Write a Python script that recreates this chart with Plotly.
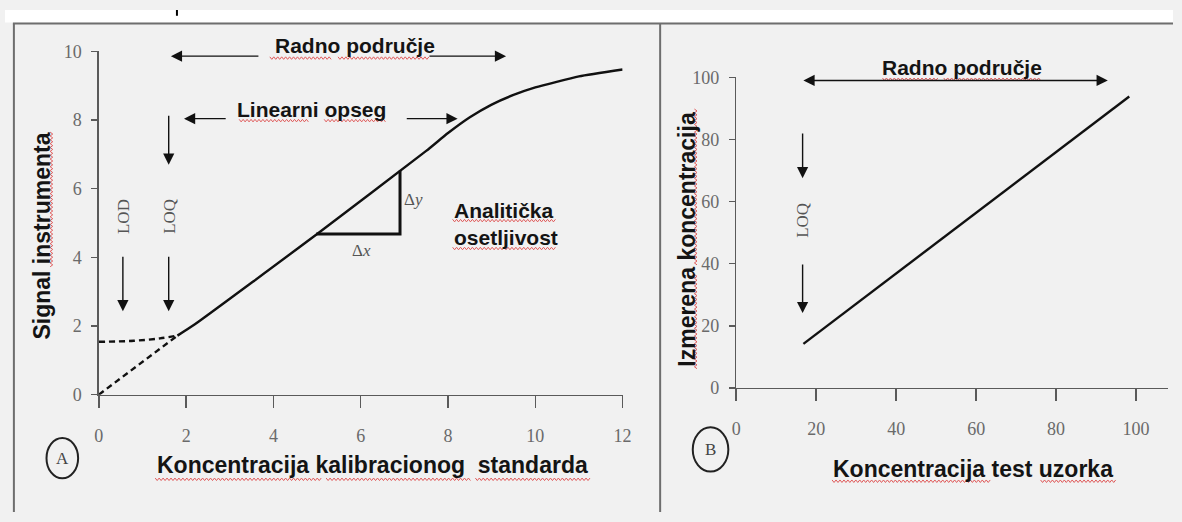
import plotly.graph_objects as go

# ---------------- data ----------------
# Panel A: calibration curve
a_curve_x = [1.8, 2.2, 5.0, 7.5, 8.0, 8.5, 9.0, 9.5, 10.0, 11.0, 12.0]
a_curve_y = [1.72, 2.05, 4.68, 7.1, 7.62, 8.08, 8.45, 8.73, 8.95, 9.27, 9.47]
a_dash_lin_x = [0.0, 1.8]
a_dash_lin_y = [0.0, 1.72]
a_dash_flat_x = [0.0, 0.8, 1.4, 1.8]
a_dash_flat_y = [1.54, 1.57, 1.64, 1.72]
a_slope_x = [4.98, 6.9, 6.9]
a_slope_y = [4.68, 4.68, 6.52]
a_xticks = [0, 2, 4, 6, 8, 10, 12]
a_yticks = [0, 2, 4, 6, 8, 10]
lod_x = 0.55
loq_x = 1.6

# Panel B: measured vs. true concentration
b_line_x = [16.8, 98.3]
b_line_y = [14.2, 93.8]
b_xticks = [0, 20, 40, 60, 80, 100]
b_yticks = [0, 20, 40, 60, 80, 100]
b_loq_x = 16.6

W, H = 1182, 522
def px(x):
    return x / W
def py(y):
    return 1 - y / H

BG = '#f1f1f1'
AX = '#5a5a5a'
TXT = '#141414'
TICKFONT = dict(family='Liberation Serif, Times New Roman, serif', size=18, color='#6a6a6a')
BOLD = dict(family='Liberation Sans, Arial, sans-serif', size=21, color=TXT)
TITLE = dict(family='Liberation Sans, Arial, sans-serif', size=23, color=TXT)

fig = go.Figure()

# Panel A traces
fig.add_trace(go.Scatter(x=a_dash_lin_x, y=a_dash_lin_y, mode='lines',
                         line=dict(color='#111', width=2.4, dash='6px,4px'), xaxis='x', yaxis='y'))
fig.add_trace(go.Scatter(x=a_dash_flat_x, y=a_dash_flat_y, mode='lines',
                         line=dict(color='#111', width=2.4, dash='6px,4px', shape='spline'), xaxis='x', yaxis='y'))
fig.add_trace(go.Scatter(x=a_curve_x, y=a_curve_y, mode='lines',
                         line=dict(color='#111', width=2.4, shape='spline', smoothing=0.5), xaxis='x', yaxis='y'))
fig.add_trace(go.Scatter(x=a_slope_x, y=a_slope_y, mode='lines',
                         line=dict(color='#111', width=3), xaxis='x', yaxis='y'))
# Panel B trace
fig.add_trace(go.Scatter(x=b_line_x, y=b_line_y, mode='lines',
                         line=dict(color='#111', width=2.4), xaxis='x2', yaxis='y2'))

axis_common = dict(showline=True, linecolor=AX, linewidth=1.5, ticks='outside', tickcolor=AX,
                   tickwidth=1.5, showgrid=False, zeroline=False, tickfont=TICKFONT, fixedrange=True)

fig.update_layout(
    width=W, height=H, margin=dict(l=0, r=0, t=0, b=0),
    paper_bgcolor=BG, plot_bgcolor=BG, showlegend=False,
    xaxis=dict(domain=[px(95), px(625)], range=[0, 12], tickvals=a_xticks, anchor='y',
               ticklen=12, ticklabelstandoff=12, **axis_common),
    yaxis=dict(domain=[py(400), py(43)], range=[0, 10], tickvals=a_yticks, anchor='x',
               ticklen=6, ticklabelstandoff=6, **axis_common),
    xaxis2=dict(domain=[px(740), px(1177)], range=[0, 108], tickvals=b_xticks, anchor='y2',
                ticklen=12, ticklabelstandoff=12, **axis_common),
    yaxis2=dict(domain=[py(393), py(70)], range=[0, 100], tickvals=b_yticks, anchor='x2',
                ticklen=6, ticklabelstandoff=6, **axis_common),
)

ann = []
def arrow(x, y, ax, ay, xr='x', yr='y', side='end'):
    ann.append(dict(x=x, y=y, ax=ax, ay=ay, xref=xr, yref=yr, axref=xr, ayref=yr, text='',
                    showarrow=True, arrowhead=2, arrowsize=1.6, arrowwidth=1.4,
                    arrowcolor='#111', arrowside=side))
def text(x, y, t, font, xr='x', yr='y', angle=0, xanchor='center'):
    ann.append(dict(x=x, y=y, xref=xr, yref=yr, text=t, showarrow=False, font=font,
                    textangle=angle, xanchor=xanchor, yanchor='middle', align='left'))

# Panel A annotations
text(px(354), py(37), '<b>Radno područje</b>', BOLD, xr='paper', yr='paper')
arrow(1.65, 9.86, 3.69, 9.86)
arrow(9.33, 9.86, 7.54, 9.86)
text(4.87, 8.32, '<b>Linearni opseg</b>', BOLD)
arrow(1.95, 8.04, 2.94, 8.04)
arrow(8.22, 8.04, 7.02, 8.04)
arrow(loq_x, 6.7, loq_x, 8.17)
arrow(lod_x, 2.43, lod_x, 4.06)
arrow(loq_x, 2.43, loq_x, 4.06)
serif_small = dict(family='Liberation Serif, Times New Roman, serif', size=17, color='#555')
text(lod_x, 5.2, 'LOD', serif_small, angle=-90)
text(loq_x, 5.2, 'LOQ', serif_small, angle=-90)
text(7.21, 5.69, 'Δ<i>y</i>', serif_small)
text(6.01, 4.2, 'Δ<i>x</i>', serif_small)
text(8.1, 4.96, '<b>Analitička<br>osetljivost</b>', BOLD, xanchor='left')

# Panel B annotations
arrow(16.8, 99, 93.3, 99, xr='x2', yr='y2', side='end+start')
text(px(968), py(60), '<b>Radno područje</b>', BOLD, xr='paper', yr='paper')
arrow(b_loq_x, 67.5, b_loq_x, 82.4, xr='x2', yr='y2')
arrow(b_loq_x, 24.1, b_loq_x, 40.2, xr='x2', yr='y2')
text(b_loq_x, 54, 'LOQ', serif_small, xr='x2', yr='y2', angle=-90)

# Axis titles (paper coordinates)
text(px(372), py(473), '<b>Koncentracija kalibracionog  standarda</b>', TITLE, xr='paper', yr='paper')
text(px(37), py(235), '<b>Signal instrumenta</b>', TITLE, xr='paper', yr='paper', angle=-90)
text(px(980), py(477), '<b>Koncentracija test uzorka</b>', TITLE, xr='paper', yr='paper')
text(px(690), py(238), '<b>Izmerena koncentracija</b>', TITLE, xr='paper', yr='paper', angle=-90)
# Panel letters
circ_font = dict(family='Liberation Serif, Times New Roman, serif', size=17, color='#444')
text(px(58), py(466), 'A', circ_font, xr='paper', yr='paper')
text(px(714), py(457), 'B', circ_font, xr='paper', yr='paper')

fig.update_layout(annotations=ann)

shapes = [
    # white strip on top
    dict(type='rect', xref='paper', yref='paper', x0=0, x1=1, y0=py(13), y1=1,
         fillcolor='white', line=dict(width=0), layer='below'),
    # frame
    dict(type='line', xref='paper', yref='paper', x0=px(8), x1=1, y0=py(14), y1=py(14),
         line=dict(color='#6e6e6e', width=2)),
    dict(type='line', xref='paper', yref='paper', x0=px(9), x1=px(9), y0=py(14), y1=0,
         line=dict(color='#6e6e6e', width=2)),
    dict(type='line', xref='paper', yref='paper', x0=px(663), x1=px(663), y0=py(14), y1=0,
         line=dict(color='#6e6e6e', width=2)),
    # small cropped mark at the top
    dict(type='line', xref='paper', yref='paper', x0=px(174), x1=px(174), y0=1, y1=py(6),
         line=dict(color='#000', width=2)),
    # panel letter circles
    dict(type='circle', xref='paper', yref='paper', x0=px(42), x1=px(74), y0=py(487), y1=py(445),
         line=dict(color='#222', width=2)),
    dict(type='circle', xref='paper', yref='paper', x0=px(696), x1=px(732), y0=py(480), y1=py(434),
         line=dict(color='#222', width=2)),
]

# red spell-check squiggles under the words (decoration, pixel positions)
def squiggle_h(x0, x1, y):
    pts = []
    k = 0
    xx = x0
    while xx <= x1:
        yy = y + (1.3 if k % 2 else -1.3)
        pts.append(f"{px(xx):.5f},{py(yy):.5f}")
        xx += 2
        k += 1
    return dict(type='path', xref='paper', yref='paper', path='M' + ' L'.join(pts),
                line=dict(color='#e05a5a', width=1))
def squiggle_v(x, y0, y1):
    pts = []
    k = 0
    yy = y0
    while yy <= y1:
        xx = x + (1.3 if k % 2 else -1.3)
        pts.append(f"{px(xx):.5f},{py(yy):.5f}")
        yy += 2
        k += 1
    return dict(type='path', xref='paper', yref='paper', path='M' + ' L'.join(pts),
                line=dict(color='#e05a5a', width=1))

for (x0, x1, y) in [(268, 330, 50), (337, 430, 50), (237, 307, 115), (323, 386, 115),
                    (453, 557, 219), (453, 557, 248),
                    (152, 321, 488), (325, 471, 488), (476, 592, 488),
                    (888, 945, 72), (950, 1048, 72),
                    (837, 997, 490), (1048, 1125, 490)]:
    shapes.append(squiggle_h(x0, x1, y))
for (x, y0, y1) in [(47, 127, 268), (699, 103, 265), (699, 275, 373)]:
    shapes.append(squiggle_v(x, y0, y1))

fig.update_layout(shapes=shapes)

fig.write_html('out.html',
               config={'displayModeBar': False, 'staticPlot': True},
               post_script="var gd=document.getElementById('{plot_id}');"
                           "document.documentElement.style.margin='0';"
                           "document.documentElement.style.overflow='hidden';"
                           "document.documentElement.style.background='" + BG + "';"
                           "document.body.style.margin='0';document.body.style.padding='0';"
                           "document.body.style.overflow='hidden';"
                           "document.body.style.background='" + BG + "';"
                           "gd.style.position='fixed';gd.style.left='0px';gd.style.top='0px';")
